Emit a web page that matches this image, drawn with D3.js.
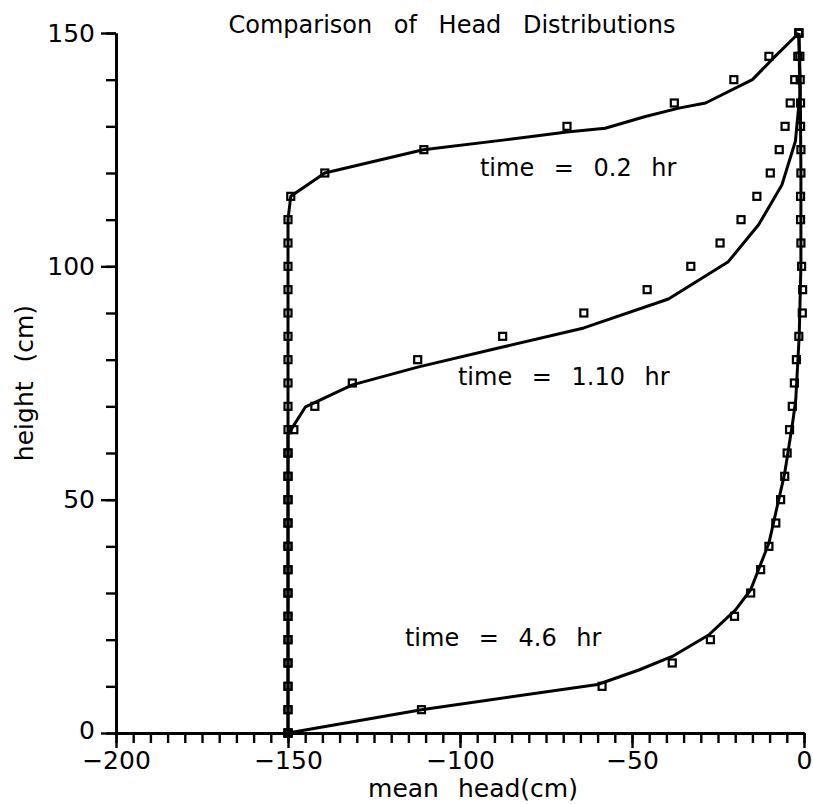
<!DOCTYPE html>
<html>
<head>
<meta charset="utf-8">
<script src="https://cdn.jsdelivr.net/npm/d3@7"></script>
<style>
body { margin: 0; background: #fff; }
text { font-family: "DejaVu Sans", sans-serif; fill: #000; }
</style>
</head>
<body>
<svg id="chart" width="813" height="804"></svg>
<script>

// measured points (squares), one every 5 cm of height
var markerHeights = [0, 5, 10, 15, 20, 25, 30, 35, 40, 45, 50, 55, 60, 65, 70, 75,
                     80, 85, 90, 95, 100, 105, 110, 115, 120, 125, 130, 135, 140, 145, 150];

var markerHead02 = [-150, -150, -150, -150, -150, -150, -150, -150, -150, -150, -150, -150,
                    -150, -150, -150, -150, -150, -150, -150, -150, -150, -150, -150,
                    -149.2, -139.3, -110.5, -68.9, -37.7, -20.4, -10.2, -1.5];

var markerHead110 = [-150, -150, -150, -150, -150, -150, -150, -150, -150, -150, -150, -150,
                     -150, -148.3, -142.2, -131.3, -112.3, -87.6, -64.0, -45.6, -32.9,
                     -24.4, -18.3, -13.7, -9.8, -7.2, -5.5, -4.0, -2.7, -1.8, -1.5];

var markerHead46 = [-150, -111.2, -58.7, -38.3, -27.2, -20.2, -15.5, -12.6, -10.2, -8.2,
                    -6.8, -5.6, -4.9, -4.2, -3.4, -2.8, -2.2, -1.5, -0.5, -0.4, -0.7,
                    -0.9, -1.0, -1.0, -0.9, -0.9, -1.0, -1.0, -1.1, -1.2, -1.5];

// simulated profiles (solid lines)
var lineHeight02 = [0, 110, 115, 120, 125, 127.1, 128.8, 129.6, 132.1, 133.9, 135.0, 140, 145, 150];
var lineHead02   = [-150, -150, -149.2, -139.3, -110.7, -86.9, -68.9, -57.8, -46.1, -36.4, -28.6, -15.0, -8.4, -1.5];

var lineHeight110 = [0, 64, 69.9, 74.6, 78.4, 82.7, 86.8, 93, 101, 108.9, 117.5, 126.8, 136.8, 150];
var lineHead110   = [-150, -150, -144.9, -131.3, -112.3, -87.6, -64.0, -39.4, -22.0, -13.2, -6.4, -2.5, -1.2, -1.5];

var lineHeight46 = [0, 5, 10.4, 13.5, 16.4, 21, 26.4, 30.7, 40.7, 55.7, 67, 71.4, 85, 100, 120, 140, 150];
var lineHead46   = [-150, -111.2, -60, -48, -38.3, -27.7, -19.9, -15.5, -10.2, -5.6, -3.2, -2.4, -1.4, -0.9, -0.9, -1.1, -1.5];

var xMajorTicks = [-200, -150, -100, -50, 0];
var yMajorTicks = [0, 50, 100, 150];
var timeLabels = ["time = 0.2 hr", "time = 1.10 hr", "time = 4.6 hr"];


function init() {

    var svg = d3.select("#chart");

    var x = d3.scaleLinear().domain([-200, 0]).range([116, 804]),
        y = d3.scaleLinear().domain([0, 150]).range([733, 33]);

    // axes: minor ticks first, then the labelled major ones
    var xMinor = d3.axisBottom(x).tickValues(d3.range(-200, 1, 5)).tickSize(10).tickSizeOuter(0).tickFormat("");
    var xMajor = d3.axisBottom(x).tickValues(xMajorTicks).tickSize(15).tickSizeOuter(0).tickPadding(3)
        .tickFormat(d3.format("d"));
    var yMinor = d3.axisLeft(y).tickValues(d3.range(0, 151, 10)).tickSize(10).tickSizeOuter(0).tickFormat("");
    var yMajor = d3.axisLeft(y).tickValues(yMajorTicks).tickSize(15).tickSizeOuter(0).tickPadding(6)
        .tickFormat(d3.format("d"));

    var gx = svg.append("g").attr("transform", "translate(0," + y(0) + ")");
    gx.append("g").call(xMinor);
    gx.append("g").call(xMajor);

    var gy = svg.append("g").attr("transform", "translate(" + x(-200) + ",0)");
    gy.append("g").call(yMinor);
    gy.append("g").call(yMajor);

    svg.selectAll(".domain").attr("stroke", "#000").attr("stroke-width", 2.8);
    svg.selectAll(".tick line").attr("stroke", "#000").attr("stroke-width", 2.4);
    svg.selectAll(".tick text").style("font-size", "25px").attr("fill", "#000")
        .style("font-family", "'DejaVu Sans', sans-serif");
    // the y "0" sits right on the corner, lift it a hair off the -200 label
    gy.selectAll(".tick text").filter(function (d) { return d === 0; }).attr("dy", "0.2em");

    // simulated lines
    var line = d3.line()
        .x(function (d) { return x(d[0]); })
        .y(function (d) { return y(d[1]); });

    var profiles = [
        d3.zip(lineHead02, lineHeight02),
        d3.zip(lineHead110, lineHeight110),
        d3.zip(lineHead46, lineHeight46)
    ];

    svg.append("g").selectAll("path")
        .data(profiles)
        .enter().append("path")
        .attr("d", line)
        .attr("fill", "none")
        .attr("stroke", "#000")
        .attr("stroke-width", 3)
        .attr("stroke-linejoin", "round");

    // measured squares
    var markers = [markerHead02, markerHead110, markerHead46];
    var s = 7;
    markers.forEach(function (heads) {
        svg.append("g").selectAll("rect")
            .data(d3.zip(heads, markerHeights))
            .enter().append("rect")
            .attr("x", function (d) { return x(d[0]) - s / 2; })
            .attr("y", function (d) { return y(d[1]) - s / 2; })
            .attr("width", s)
            .attr("height", s)
            .attr("fill", "none")
            .attr("stroke", "#000")
            .attr("stroke-width", 2.2);
    });

    // time labels
    var labelPos = [[-94.2, 119.4], [-100.6, 74.6], [-116, 18.7]];
    svg.append("g").selectAll("text")
        .data(timeLabels)
        .enter().append("text")
        .attr("x", function (d, i) { return x(labelPos[i][0]); })
        .attr("y", function (d, i) { return y(labelPos[i][1]); })
        .style("font-size", "24px")
        .style("word-spacing", "12px")
        .text(function (d) { return d; });

    // title and axis names
    svg.append("text")
        .attr("x", 452)
        .attr("y", 33)
        .attr("text-anchor", "middle")
        .style("font-size", "24px")
        .style("word-spacing", "14px")
        .text("Comparison of Head Distributions");

    svg.append("text")
        .attr("x", 473)
        .attr("y", 797)
        .attr("text-anchor", "middle")
        .style("font-size", "25px")
        .style("word-spacing", "11px")
        .text("mean head(cm)");

    svg.append("text")
        .attr("transform", "translate(33," + ((y(0) + y(150)) / 2) + ") rotate(-90)")
        .attr("text-anchor", "middle")
        .style("font-size", "25px")
        .style("word-spacing", "11px")
        .text("height (cm)");
}

init();
</script>
</body>
</html>
